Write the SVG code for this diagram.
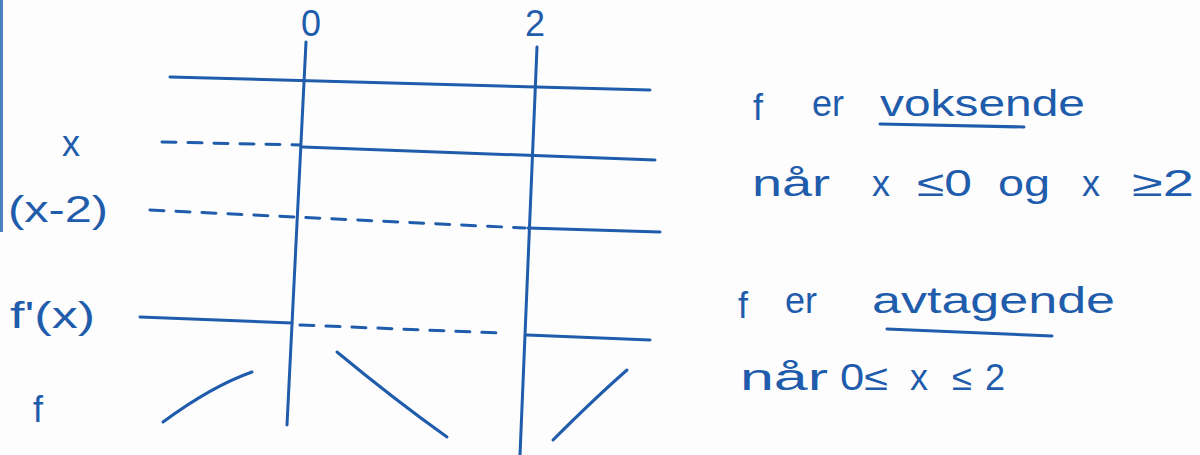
<svg xmlns="http://www.w3.org/2000/svg" width="1200" height="455" viewBox="0 0 1200 455">
<style>
.ln{stroke:#1f5cab;stroke-width:3;fill:none;stroke-linecap:round}
.ds{stroke:#1f5cab;stroke-width:3;fill:none;stroke-dasharray:14 12;stroke-linecap:round}
.t{font-family:"Liberation Sans",Arial,sans-serif;fill:#1f5cab;font-size:36px}
.ul{stroke:#1f5cab;stroke-width:3;fill:none;stroke-linecap:round}
</style>
<rect width="1200" height="455" fill="#fdfdfd"/>
<rect x="0" y="0" width="3" height="232" fill="#4a7fc0"/>
<g id="connectors">
<path class="ln" d="M306 42 L287 425"/>
<path class="ln" d="M537 47 L520 455"/>
<path class="ln" d="M170 77 L650 90"/>
<path class="ds" d="M162 142 L300 145"/>
<path class="ln" d="M303 147 L655 160"/>
<path class="ds" d="M150 210 L525 228"/>
<path class="ln" d="M528 228 L660 232"/>
<path class="ln" d="M140 317 L292 323"/>
<path class="ds" d="M300 325 L500 333"/>
<path class="ln" d="M527 335 L650 340"/>
<path class="ln" d="M163 422 Q212 386 252 372"/>
<path class="ln" d="M337 352 Q395 400 447 437"/>
<path class="ln" d="M553 440 Q595 398 627 370"/>
</g>
<g id="axis-labels">
<text class="t" x="311" y="36" text-anchor="middle" font-size="30">0</text>
<text class="t" x="535" y="36" text-anchor="middle" font-size="30">2</text>
</g>
<g id="row-labels">
<text class="t" x="71" y="156" text-anchor="middle" font-size="38">x</text>
<text class="t" x="8" y="222" textLength="100" lengthAdjust="spacingAndGlyphs">(x-2)</text>
<text class="t" x="10" y="328" textLength="85" lengthAdjust="spacingAndGlyphs">f'(x)</text>
<text class="t" x="33" y="422" font-size="50">f</text>
</g>
<g id="conclusion-1">
<text class="t" x="753" y="120" font-size="50">f</text>
<text class="t" x="812" y="116">er</text>
<text class="t" x="880" y="116" textLength="205" lengthAdjust="spacingAndGlyphs">voksende</text>
<path class="ul" d="M880 124 L1024 127"/>
<text class="t" x="752" y="196" textLength="78" lengthAdjust="spacingAndGlyphs">når</text>
<text class="t" x="872" y="196">x</text>
<text class="t" x="917" y="196" textLength="55" lengthAdjust="spacingAndGlyphs">≤0</text>
<text class="t" x="998" y="196" textLength="52" lengthAdjust="spacingAndGlyphs">og</text>
<text class="t" x="1082" y="196">x</text>
<text class="t" x="1132" y="196" textLength="62" lengthAdjust="spacingAndGlyphs">≥2</text>
</g>
<g id="conclusion-2">
<text class="t" x="738" y="318" font-size="50">f</text>
<text class="t" x="785" y="313">er</text>
<text class="t" x="872" y="313" textLength="243" lengthAdjust="spacingAndGlyphs">avtagende</text>
<path class="ul" d="M887 329 L1052 336"/>
<text class="t" x="740" y="390" textLength="88" lengthAdjust="spacingAndGlyphs">når</text>
<text class="t" x="840" y="390" textLength="48" lengthAdjust="spacingAndGlyphs">0≤</text>
<text class="t" x="910" y="390">x</text>
<text class="t" x="952" y="390" textLength="20" lengthAdjust="spacingAndGlyphs">≤</text>
<text class="t" x="985" y="390">2</text>
</g>
</svg>
